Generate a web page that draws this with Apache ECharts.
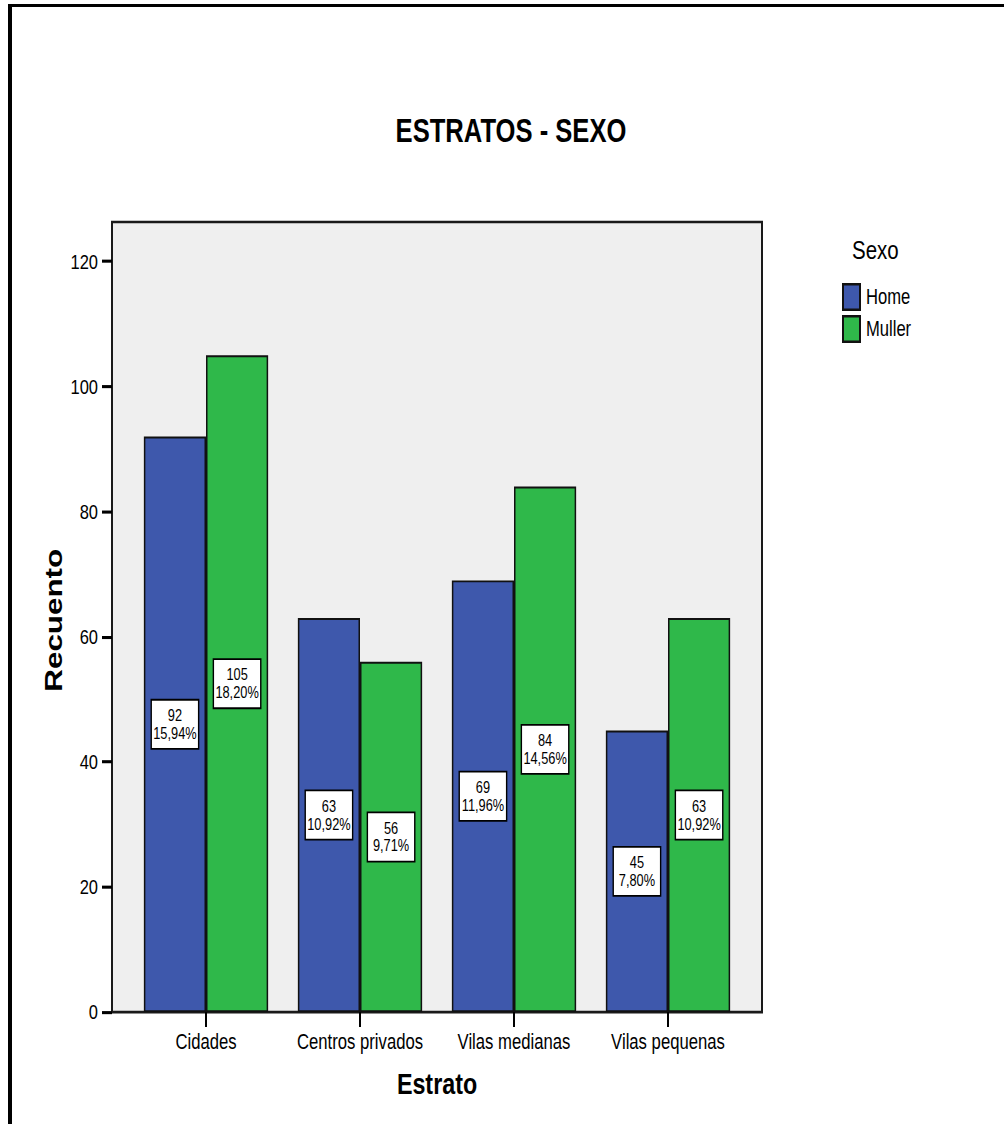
<!DOCTYPE html>
<html><head><meta charset="utf-8">
<script src="https://cdn.jsdelivr.net/npm/echarts@6/dist/echarts.min.js"></script>
<style>
html,body{margin:0;padding:0;background:#fff;overflow:hidden;width:1004px;height:1124px}
#c{width:1004px;height:878px;transform:scaleY(1.28018);transform-origin:0 0}
</style>
</head><body><div id="c"></div>
<script>
const categories = ['Cidades', 'Centros privados', 'Vilas medianas', 'Vilas pequenas'];
const homeValues = [92, 63, 69, 45];
const mullerValues = [105, 56, 84, 63];
const homePct = ['15,94%', '10,92%', '11,96%', '7,80%'];
const mullerPct = ['18,20%', '9,71%', '14,56%', '10,92%'];
const yTicks = [0, 20, 40, 60, 80, 100, 120];
const seriesNames = ['Home', 'Muller'];

const FONT = '"Liberation Sans", Arial, Helvetica, sans-serif';
const Y_MAX = 126.3;
const chart = echarts.init(document.getElementById('c'), null, {renderer: 'svg'});

function lbl(pcts) {
  return {
    show: true, position: 'inside',
    formatter: p => p.value + '\n' + pcts[p.dataIndex],
    color: '#000', fontFamily: FONT, fontSize: 12.8, lineHeight: 14,
    backgroundColor: '#fff', borderColor: '#000', borderWidth: 1.4,
    padding: [4.5, 1, 4.5, 1], width: 44, align: 'center'
  };
}

chart.setOption({
  animation: false,
  backgroundColor: '#fff',
  title: [
    {text: 'ESTRATOS - SEXO', left: 511, top: 89, textAlign: 'center', padding: 0,
     textStyle: {fontFamily: FONT, fontSize: 25.6, fontWeight: 'bold', color: '#000'}},
    {text: 'Sexo', left: 852, top: 185, padding: 0,
     textStyle: {fontFamily: FONT, fontSize: 20.5, fontWeight: 'normal', color: '#000'}}
  ],
  legend: {
    data: seriesNames, orient: 'vertical', left: 842, top: 221, padding: 0,
    itemWidth: 17, itemHeight: 20, itemGap: 3, icon: 'rect',
    textStyle: {fontFamily: FONT, fontSize: 16.6, color: '#000', padding: [0, 0, 0, 1]}
  },
  grid: [
    {left: 112, right: 242, top: 173.4, bottom: 87.4, show: true, backgroundColor: '#efefef',
     borderColor: '#1a1a1a', borderWidth: 2, z: 0},
    {left: 129, right: 259, top: 173.4, bottom: 87.4}
  ],
  xAxis: [
    {gridIndex: 0, type: 'value', show: false, min: 0, max: 1},
    {gridIndex: 1, type: 'category', data: categories,
     axisLine: {show: false},
     axisTick: {show: true, alignWithLabel: true, length: 11.7, lineStyle: {color: '#000', width: 2}},
     axisLabel: {fontFamily: FONT, fontSize: 16.7, color: '#000', margin: 15, interval: 0},
     name: 'Estrato', nameLocation: 'middle', nameGap: 44.5,
     nameTextStyle: {fontFamily: FONT, fontSize: 23.3, fontWeight: 'bold', color: '#000'}}
  ],
  yAxis: [
    {gridIndex: 0, type: 'value', min: 0, max: Y_MAX,
     axisLine: {show: false}, splitLine: {show: false},
     axisTick: {show: true, length: 10, lineStyle: {color: '#000', width: 2.4},
       customValues: yTicks},
     axisLabel: {fontFamily: FONT, fontSize: 16.5, color: '#000', margin: 14,
       customValues: yTicks}},
    {gridIndex: 1, type: 'value', min: 0, max: Y_MAX, show: false, splitLine: {show: false}}
  ],
  series: [
    {name: seriesNames[0], type: 'bar', xAxisIndex: 1, yAxisIndex: 1, data: homeValues,
     barGap: '0%', barCategoryGap: '19.3%',
     itemStyle: {color: '#3e58ac', borderColor: '#111', borderWidth: 1.5},
     label: lbl(homePct)},
    {name: seriesNames[1], type: 'bar', xAxisIndex: 1, yAxisIndex: 1, data: mullerValues,
     barGap: '0%', barCategoryGap: '19.3%',
     itemStyle: {color: '#2fb84a', borderColor: '#111', borderWidth: 1.5},
     label: lbl(mullerPct)}
  ],
  graphic: [
    {type: 'rect', shape: {x: 8, y: 3.1, width: 996, height: 2.4}, style: {fill: '#000'}},
    {type: 'rect', shape: {x: 8, y: 3.1, width: 4, height: 880}, style: {fill: '#000'}},
    {type: 'text', x: 54, y: 484.5, rotation: Math.PI / 2,
     style: {text: 'Recuento', fontFamily: FONT, fontSize: 24.5, fontWeight: 'bold', fill: '#000',
       align: 'center', verticalAlign: 'middle'}}
  ]
});
</script></body></html>
